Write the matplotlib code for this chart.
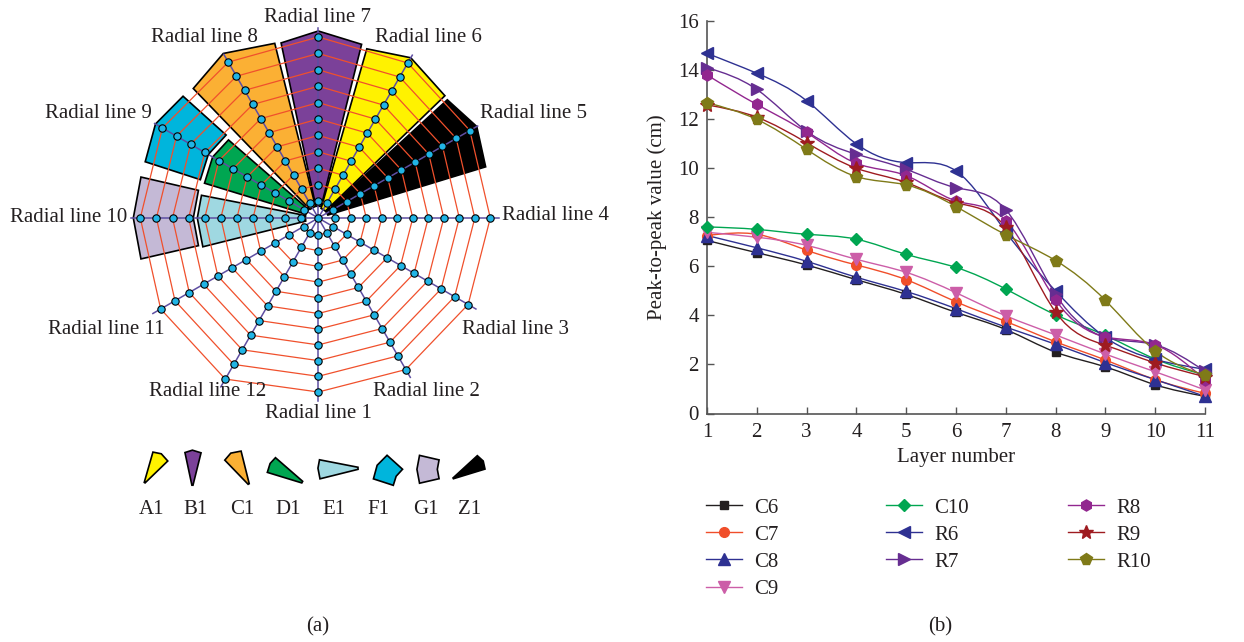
import numpy as np
import matplotlib.pyplot as plt
from matplotlib.path import Path
from matplotlib.patches import PathPatch, Polygon
from matplotlib.lines import Line2D

plt.rcParams['font.family'] = ['Liberation Serif', 'DejaVu Serif']
txt = '#231f20'

# ---- (a) monitoring web: 12 radial lines, 11 points on each
line_no = np.arange(1, 13)
line_angle = -90 + 30 * (line_no - 1)
line_outer = [174, 175, 173, 172, 175, 179, 181, 180, 180, 178, 182, 186]
n_points = 11
first_r = 17

# zones laid over the web
zone_names = ['A1', 'B1', 'C1', 'D1', 'E1', 'F1', 'G1', 'Z1']
zone_colors = ['#fff200', '#7b4199', '#fbb034', '#00a651', '#9fd8e1', '#00b5dc', '#c4b9d6', '#000000']
zone_lo = [44, 76, 104, 139, 169, 138, 167, 17]
zone_hi = [74, 102, 134, 163, 194, 162, 193, 42.5]
zone_mid = [60, 90, 120, 150, 180, 150, 180, 30]
zone_rin = [10, 12, 12, 13, 13, 124, 123, 10]
zone_rin_mid = [10, 12, 12, 13, 13, 127, 125, 10]
zone_rout = [176, 179, 180, 119, 119, 182, 182, 175]
zone_rpeak = [185, 187, 190, 122, 121, 188, 185, 183]

# ---- (b) peak-to-peak values per layer
layers = np.arange(1, 12)
C6 = [7.05, 6.55, 6.05, 5.45, 4.85, 4.12, 3.42, 2.50, 1.90, 1.17, 0.70]
C7 = [7.25, 7.30, 6.65, 6.05, 5.45, 4.55, 3.75, 2.92, 2.18, 1.38, 0.82]
C8 = [7.25, 6.75, 6.20, 5.55, 4.97, 4.27, 3.52, 2.82, 2.07, 1.38, 0.70]
C9 = [7.38, 7.18, 6.85, 6.28, 5.75, 4.92, 3.98, 3.20, 2.42, 1.70, 0.96]
C10 = [7.60, 7.50, 7.30, 7.10, 6.48, 5.95, 5.07, 4.02, 3.18, 2.22, 1.57]
R6 = [14.67, 13.86, 12.74, 10.98, 10.22, 9.88, 7.40, 4.99, 3.10, 2.20, 1.80]
R7 = [14.09, 13.20, 11.50, 10.56, 9.95, 9.20, 8.30, 4.85, 3.10, 2.80, 1.72]
R8 = [13.79, 12.59, 11.45, 10.19, 9.69, 8.66, 7.86, 4.63, 3.12, 2.80, 1.38]
R9 = [12.57, 12.07, 11.03, 9.99, 9.41, 8.59, 7.59, 4.13, 2.78, 2.06, 1.50]
R10 = [12.66, 11.98, 10.76, 9.65, 9.31, 8.43, 7.28, 6.23, 4.61, 2.55, 1.56]

series = [('C6', C6, '#231f20', 's', 5.5), ('C7', C7, '#f04e2a', 'o', 7),
          ('C8', C8, '#2e3192', '^', 8), ('C9', C9, '#cc5ea8', 'v', 8),
          ('C10', C10, '#00a651', 'D', 6.5), ('R6', R6, '#2e3192', '<', 8),
          ('R7', R7, '#662d91', '>', 8), ('R8', R8, '#92278f', 'h', 8),
          ('R9', R9, '#9e1b20', '*', 10.5), ('R10', R10, '#7f7a18', 'p', 8.5)]

fig = plt.figure(figsize=(12.44, 6.42), dpi=100)

# left panel drawn in pixel units, y downwards
ax = fig.add_axes([0, 0, 640 / 1244, 1])
ax.set_xlim(0, 640)
ax.set_ylim(642, 0)
ax.axis('off')
cx, cy = 318.3, 218


def pol(theta, r):
    t = np.radians(theta)
    return r * np.cos(t), -r * np.sin(t)


def zone_shape(k):
    pts = [pol(zone_lo[k], zone_rin[k])]
    if zone_rin_mid[k] != zone_rin[k]:
        pts.append(pol(zone_mid[k], zone_rin_mid[k]))
    pts += [pol(zone_hi[k], zone_rin[k]), pol(zone_hi[k], zone_rout[k]),
            pol(zone_mid[k], zone_rpeak[k]), pol(zone_lo[k], zone_rout[k])]
    return np.array(pts)


for k in range(len(zone_names)):
    shp = zone_shape(k) + [cx, cy]
    ax.add_patch(Polygon(shp, closed=True, fc=zone_colors[k], ec='black', lw=1.2, zorder=1))

# points on every radial line
px = np.zeros((12, n_points))
py = np.zeros((12, n_points))
for j in range(12):
    r = np.linspace(first_r, line_outer[j], n_points)
    dx, dy = pol(line_angle[j], r)
    px[j], py[j] = cx + dx, cy + dy

# red rings joining neighbouring lines
for j in range(12):
    nxt = (j + 1) % 12
    for i in range(n_points):
        ax.plot([px[j, i], px[nxt, i]], [py[j, i], py[nxt, i]], color='#f0502c', lw=0.9, zorder=2)

for j in range(12):
    ex, ey = pol(line_angle[j], line_outer[j] + 9)
    ax.plot([cx, cx + ex], [cy, cy + ey], color='#5e4ea2', lw=1.1, zorder=3)
    ax.plot(px[j], py[j], 'o', ms=5.3, mfc='#21b4e5', mec='black', mew=0.8, zorder=4)
ax.plot([cx], [cy], 'o', ms=5.3, mfc='#21b4e5', mec='black', mew=0.8, zorder=4)

label_pos = [(318, 414, 'center'), (426, 392, 'center'), (462, 329, 'left'),
             (502, 216, 'left'), (480, 114, 'left'), (375, 37, 'left'),
             (318, 17, 'center'), (258, 37, 'right'), (152, 114, 'right'),
             (127, 218, 'right'), (165, 329, 'right'), (208, 392, 'center')]
for j, (lx, ly, ha) in enumerate(label_pos):
    ax.text(lx, ly, f'Radial line {line_no[j]}', ha=ha, va='center', fontsize=15, color=txt)

# small zone keys under the web
icon_scale = [0.19, 0.2, 0.2, 0.34, 0.37, 0.36, 0.34, 0.2]
icon_x = [156, 193, 237, 285, 338, 388, 428, 469]
icon_y = [467.5, 467.7, 467.7, 470.3, 469.3, 470.3, 469.3, 467.2]
key_x = [152, 196, 242, 288, 334, 378, 426, 470]
for k in range(len(zone_names)):
    shp = zone_shape(k) * icon_scale[k]
    mid = (shp.min(axis=0) + shp.max(axis=0)) / 2
    shp = shp - mid + [icon_x[k], icon_y[k]]
    ax.add_patch(Polygon(shp, closed=True, fc=zone_colors[k], ec='black', lw=1.2))
    ax.text(key_x[k], 510, zone_names[k], ha='center', va='center', fontsize=15, color=txt)

ax.text(318, 627, '(a)', ha='center', va='center', fontsize=15, color=txt)


# ---- right panel
def spline_path(x, y):
    x = np.asarray(x, float)
    y = np.asarray(y, float)
    n = len(x)
    h = np.diff(x)
    A = np.zeros((n, n))
    b = np.zeros(n)
    A[0, 0] = A[-1, -1] = 1
    for i in range(1, n - 1):
        A[i, i - 1] = h[i - 1]
        A[i, i] = 2 * (h[i - 1] + h[i])
        A[i, i + 1] = h[i]
        b[i] = 6 * ((y[i + 1] - y[i]) / h[i] - (y[i] - y[i - 1]) / h[i - 1])
    M = np.linalg.solve(A, b)
    verts = [(x[0], y[0])]
    codes = [Path.MOVETO]
    for i in range(n - 1):
        s = (y[i + 1] - y[i]) / h[i]
        m0 = s - h[i] * (2 * M[i] + M[i + 1]) / 6
        m1 = s + h[i] * (M[i] + 2 * M[i + 1]) / 6
        verts += [(x[i] + h[i] / 3, y[i] + m0 * h[i] / 3),
                  (x[i + 1] - h[i] / 3, y[i + 1] - m1 * h[i] / 3),
                  (x[i + 1], y[i + 1])]
        codes += [Path.CURVE4] * 3
    return Path(verts, codes)


bx = fig.add_axes([707 / 1244, (642 - 413.5) / 642, 498 / 1244, 392.8 / 642])
handles = []
for name, vals, col, mk, ms in series:
    bx.add_patch(PathPatch(spline_path(layers, vals), fill=False, ec=col, lw=1.0, zorder=2))
    bx.plot(layers, vals, ls='none', marker=mk, ms=ms, color=col, zorder=3, clip_on=False)
    handles.append(Line2D([], [], color=col, lw=1.0, marker=mk, ms=ms, label=name))

bx.set_xlim(1, 11)
bx.set_ylim(0, 16)
bx.set_xticks(layers)
bx.set_yticks(np.arange(0, 17, 2))
bx.spines[['top', 'right']].set_visible(False)
for sp in ('left', 'bottom'):
    bx.spines[sp].set_color('#555555')
    bx.spines[sp].set_linewidth(1.2)
bx.tick_params(direction='in', length=5, width=1.0, color='#555555',
               labelsize=15, labelcolor=txt)
bx.tick_params(axis='x', pad=7)
bx.tick_params(axis='y', pad=6)
bx.set_xlabel('Layer number', fontsize=15, color=txt, labelpad=4)
bx.set_ylabel('Peak-to-peak value (cm)', fontsize=15, color=txt, labelpad=8)

# legend in three columns
col_x = [706 / 1244, 886 / 1244, 1068 / 1244]
groups = [handles[0:4], handles[4:7], handles[7:10]]
for gx, grp in zip(col_x, groups):
    fig.legend(handles=grp, loc='upper left', bbox_to_anchor=(gx, 1 - 498 / 642),
               frameon=False, fontsize=15, handlelength=1.75, handletextpad=0.55,
               labelspacing=0.36, borderpad=0, borderaxespad=0, labelcolor=txt)

fig.text(940 / 1244, 1 - 627 / 642, '(b)', ha='center', va='center', fontsize=15, color=txt)

fig.savefig('out.png', dpi=100)
